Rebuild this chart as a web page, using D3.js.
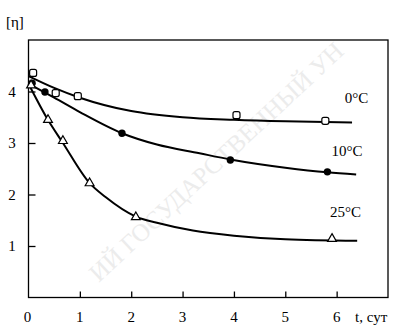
<!DOCTYPE html>
<html>
<head>
<meta charset="utf-8">
<script src="https://d3js.org/d3.v7.min.js"></script>
<style>
  body { margin: 0; background: #fff; }
  svg { display: block; font-family: "Liberation Serif", "DejaVu Serif", serif; }
</style>
</head>
<body>
<svg id="canvas"></svg>
<script>
"use strict"

// Chart data
const xTicks = [0, 1, 2, 3, 4, 5, 6];
const yTicks = [1, 2, 3, 4];
const seriesNames = ["0°C", "10°C", "25°C"];

// measured points
const t0 = [0.09, 0.53, 0.96, 4.05, 5.78];
const eta0 = [4.36, 3.97, 3.91, 3.54, 3.43];
const t10 = [0.07, 0.32, 1.82, 3.93, 5.82];
const eta10 = [4.16, 3.99, 3.19, 2.67, 2.44];
const t25 = [0.05, 0.38, 0.67, 1.19, 2.09, 5.91];
const eta25 = [4.12, 3.45, 3.04, 2.22, 1.56, 1.14];

// fitted curves
const fitT0 = [0, 0.5, 1, 2, 3, 4, 5, 6.3];
const fitEta0 = [4.3, 4.07, 3.88, 3.62, 3.5, 3.45, 3.42, 3.4];
const fitT10 = [0, 0.5, 1, 1.82, 2.5, 3.33, 3.93, 5, 5.82, 6.38];
const fitEta10 = [4.15, 3.88, 3.6, 3.19, 2.97, 2.8, 2.68, 2.52, 2.43, 2.39];
const fitT25 = [0, 0.36, 0.67, 1.19, 1.5, 2.09, 2.5, 3.2, 4, 5, 6.4];
const fitEta25 = [4.15, 3.48, 3.0, 2.22, 1.95, 1.57, 1.45, 1.3, 1.2, 1.13, 1.1];

const canvasWidth = 404;
const canvasHeight = 328;
const chart = { left: 28.5, right: 388, top: 40, bottom: 297.5 };

const canvas = d3.select("#canvas")
    .attr("width", canvasWidth)
    .attr("height", canvasHeight);

// Watermark (faint)
canvas.append("text")
    .text("ИЙ ГОСУДАРСТВЕННЫЙ УН")
    .attr("fill", "#ececec")
    .attr("font-size", 25)
    .attr("text-anchor", "middle")
    .attr("transform", "translate(222,168) rotate(-43)");

// Scales
const x = d3.scaleLinear().domain([0, 7]).range([chart.left, chart.right]);
const y = d3.scaleLinear().domain([0, 5]).range([chart.bottom, chart.top]);

// Frame
canvas.append("rect")
    .attr("x", chart.left)
    .attr("y", chart.top)
    .attr("width", chart.right - chart.left)
    .attr("height", chart.bottom - chart.top)
    .attr("fill", "none")
    .attr("stroke", "#000")
    .attr("stroke-width", 1.3);

// Bottom axis (ticks inward)
const xAxis = canvas.append("g")
    .attr("transform", `translate(0,${chart.bottom})`)
    .call(d3.axisTop(x).tickValues(xTicks.slice(1)).tickSize(6).tickFormat(""));
xAxis.select(".domain").remove();
xAxis.selectAll("line").attr("stroke-width", 1.3);

canvas.append("g").selectAll("text")
    .data(xTicks)
    .enter()
    .append("text")
    .text(d => d)
    .attr("x", d => x(d) + (d === 0 ? -1 : 0))
    .attr("y", 322)
    .attr("text-anchor", "middle")
    .attr("font-size", 15);

canvas.append("text")
    .text("t, сут")
    .attr("x", 355)
    .attr("y", 322)
    .attr("font-size", 15);

// Left axis (ticks inward)
const yAxis = canvas.append("g")
    .attr("transform", `translate(${chart.left},0)`)
    .call(d3.axisRight(y).tickValues(yTicks).tickSize(7).tickFormat(""));
yAxis.select(".domain").remove();
yAxis.selectAll("line").attr("stroke-width", 1.3);

canvas.append("g").selectAll("text")
    .data(yTicks)
    .enter()
    .append("text")
    .text(d => d)
    .attr("x", 12)
    .attr("y", d => y(d) + 5)
    .attr("text-anchor", "middle")
    .attr("font-size", 15);

canvas.append("text")
    .text("[η]")
    .attr("x", 6)
    .attr("y", 27)
    .attr("font-size", 15);

// Fitted curves
const line = d3.line()
    .x(d => x(d[0]))
    .y(d => y(d[1]))
    .curve(d3.curveMonotoneX);

const fits = [
    d3.zip(fitT0, fitEta0),
    d3.zip(fitT10, fitEta10),
    d3.zip(fitT25, fitEta25)
];

canvas.append("g").selectAll("path")
    .data(fits)
    .enter()
    .append("path")
    .attr("d", line)
    .attr("fill", "none")
    .attr("stroke", "#000")
    .attr("stroke-width", 2);

// Markers
canvas.append("g").selectAll("rect")
    .data(d3.zip(t0, eta0))
    .enter()
    .append("rect")
    .attr("x", d => x(d[0]) - 3.5)
    .attr("y", d => y(d[1]) - 3.5)
    .attr("width", 7)
    .attr("height", 7)
    .attr("rx", 2)
    .attr("fill", "#fff")
    .attr("stroke", "#000")
    .attr("stroke-width", 1.2);

canvas.append("g").selectAll("circle")
    .data(d3.zip(t10, eta10))
    .enter()
    .append("circle")
    .attr("cx", d => x(d[0]))
    .attr("cy", d => y(d[1]))
    .attr("r", 3.7)
    .attr("fill", "#000");

const triangle = d3.symbol().type(d3.symbolTriangle).size(34);
canvas.append("g").selectAll("path")
    .data(d3.zip(t25, eta25))
    .enter()
    .append("path")
    .attr("d", triangle)
    .attr("transform", d => `translate(${x(d[0])},${y(d[1])})`)
    .attr("fill", "#fff")
    .attr("stroke", "#000")
    .attr("stroke-width", 1.2);

// Series labels
const labelPos = [[6.16, 3.78], [5.9, 2.74], [5.87, 1.56]];
canvas.append("g").selectAll("text")
    .data(seriesNames)
    .enter()
    .append("text")
    .text(d => d)
    .attr("x", (d, i) => x(labelPos[i][0]))
    .attr("y", (d, i) => y(labelPos[i][1]))
    .attr("font-size", 15);
</script>
</body>
</html>
